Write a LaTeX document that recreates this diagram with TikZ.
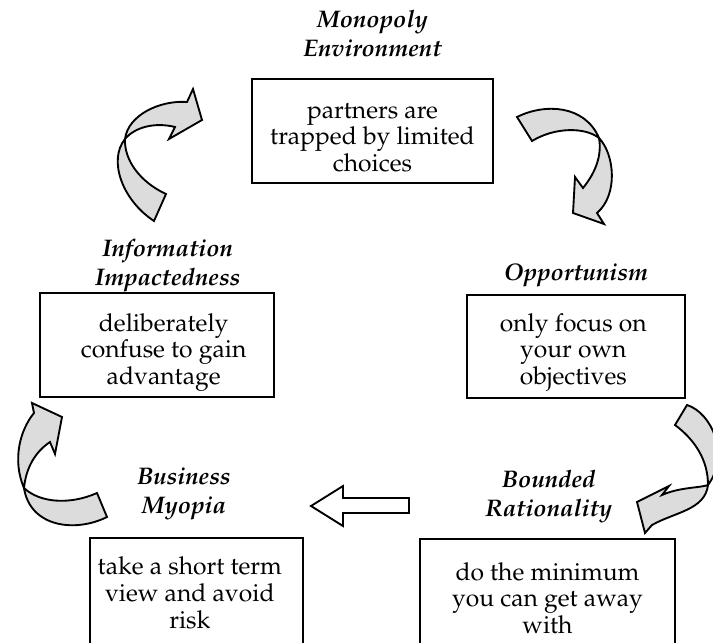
\documentclass[tikz,border=0pt]{standalone}
\usepackage[T1]{fontenc}
\usepackage{mathpazo}
\usetikzlibrary{positioning}
\definecolor{bandgray}{RGB}{220,220,220}
\begin{document}
\begin{tikzpicture}
[x=0.75pt,y=-0.75pt,
  boxdecorate/.style={shape=rectangle,draw,line width=1.5pt,inner sep=0pt},
  bodydecorate/.style={align=center,inner sep=0pt,font=\fontsize{18.5}{20}\selectfont},
  tagdecorate/.style={align=center,inner sep=0pt,font=\fontsize{18}{22}\selectfont\bfseries\itshape},
  benddecorate/.style={fill=bandgray,draw,line width=1.4pt,line join=miter},
  blockdecorate/.style={fill=white,draw,line width=1.4pt,line join=miter}]
\useasboundingbox (0,0) rectangle (713,642);
%% boxes, text set a little below the middle
\foreach \nodename/\x/\y/\w/\h/\dx/\dy/\body in {
  mono/372.5/131/241/104/0pt/-5pt/{partners are\\trapped by limited\\choices},
  info/157/345/234/104/5pt/-5.5pt/{deliberately\\confuse to gain\\advantage},
  oppo/576/346.5/218/103/-2pt/-4.5pt/{only focus on\\your own\\objectives},
  myopia/196.5/593/213/110/-5pt/0pt/{take a short term\\view and avoid\\risk},
  bounded/547.5/594/255/110/0pt/-3pt/{do the minimum\\you can get away\\with}} {
  \node (\nodename) at (\x,\y) [boxdecorate,minimum width=\w*0.75pt,minimum height=\h*0.75pt,
    label={[bodydecorate,xshift=\dx,yshift=\dy]center:\body}] {};
}
%% headings over the boxes
\foreach \tagname/\boxname/\gap/\dx/\words in {
  monotag/mono/9.2pt/0pt/{Monopoly\\Environment\strut},
  infotag/info/-2.1pt/8pt/{Information\\Impactedness\strut},
  oppotag/oppo/3.2pt/0pt/{Opportunism\strut},
  myopiatag/myopia/10.7pt/-9.4pt/{Business\\Myopia\strut},
  boundedtag/bounded/9.2pt/1pt/{Bounded\\Rationality\strut}} {
  \node (\tagname) [tagdecorate,above=\gap of \boxname,xshift=\dx] {\words};
}
%% curved arrows, back half then front half
% information -> monopoly
\draw[benddecorate] (166,194) -- (154,221) .. controls (122,200) and (108,160) .. (125,139)
  .. controls (124,160) and (140,182) .. cycle;
\draw[benddecorate] (125,139) .. controls (128,115) and (160,100) .. (187,102) -- (193,89)
  -- (202,120) -- (169,139) -- (175,127) .. controls (155,122) and (135,127) .. cycle;
% monopoly -> opportunism
\draw[benddecorate] (517,117) .. controls (545,103) and (585,105) .. (599,138)
  .. controls (585,127) and (555,127) .. (532,141) -- cycle;
\draw[benddecorate] (599,138) .. controls (615,155) and (618,195) .. (597,213) -- (604,224)
  -- (573,213) -- (575,177) -- (583,188) .. controls (596,172) and (602,155) .. cycle;
% opportunism -> bounded rationality
\draw[benddecorate] (687,405) .. controls (712,413) and (730,455) .. (708,485)
  .. controls (708,460) and (695,440) .. (675,425) -- cycle;
\draw[benddecorate] (708,485) .. controls (705,510) and (675,512) .. (652,525) -- (645,533)
  -- (637,502) -- (669,486) -- (662,495) .. controls (680,487) and (700,488) .. cycle;
% business myopia -> information
\draw[benddecorate] (97,493) -- (107,517) .. controls (75,533) and (30,527) .. (24,488)
  .. controls (40,503) and (70,505) .. cycle;
\draw[benddecorate] (24,488) .. controls (12,460) and (20,430) .. (34,413) -- (32,403)
  -- (62,417) -- (55,454) -- (50,442) .. controls (35,452) and (26,468) .. cycle;
%% straight arrow, bounded rationality -> business myopia
\draw[blockdecorate] (409,498) -- (343,498) -- (343,486) -- (311,506) -- (343,526)
  -- (343,513) -- (409,513) -- cycle;
\end{tikzpicture}
\end{document}
